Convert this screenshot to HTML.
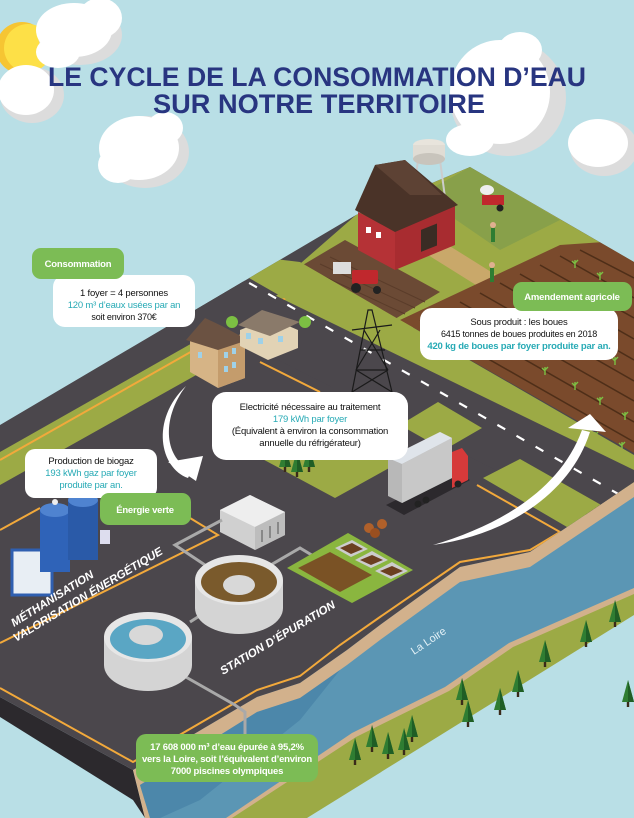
<!DOCTYPE html>
<html><head><meta charset="utf-8"><style>
html,body{margin:0;padding:0;background:#b9dfe6;}
svg{display:block;font-family:"Liberation Sans",sans-serif;}
</style></head><body>
<svg width="634" height="818" viewBox="0 0 634 818" xmlns="http://www.w3.org/2000/svg">
<defs>
<clipPath id="land"><polygon points="0,425 356,215 470,167 634,262 634,482 530,552 460,567 380,625 347,650 300,683 257,697 133,770 0,697"/></clipPath>
<g id="tree"><rect x="-1.2" y="0" width="2.4" height="7" fill="#3a2a1a"/><polygon points="0,-20 -6,2 6,2" fill="#2f7d32"/><polygon points="0,-20 0,2 6,2" fill="#1f5e25"/></g>
<g id="crop"><path d="M0,0 l0,-8 M0,-4 l-3,-3 M0,-5 l3,-3" stroke="#7cc043" stroke-width="1.4" fill="none"/></g>
</defs>
<rect width="634" height="818" fill="#b9dfe6"/>
<!-- sun -->
<circle cx="22" cy="48" r="26" fill="#f6c533"/>
<circle cx="28" cy="48" r="24" fill="#fde047"/>
<!-- clouds -->
<g fill="#dcdcdc">
<ellipse cx="80" cy="35" rx="42" ry="30"/><ellipse cx="32" cy="95" rx="32" ry="28"/><ellipse cx="145" cy="152" rx="44" ry="36"/><ellipse cx="508" cy="98" rx="58" ry="58"/><ellipse cx="604" cy="148" rx="34" ry="28"/>
</g>
<g fill="#fff">
<ellipse cx="74" cy="30" rx="38" ry="27"/><ellipse cx="58" cy="52" rx="22" ry="16"/><ellipse cx="100" cy="18" rx="22" ry="20"/>
<ellipse cx="26" cy="90" rx="28" ry="25"/>
<ellipse cx="139" cy="148" rx="40" ry="32"/><ellipse cx="118" cy="165" rx="20" ry="18"/><ellipse cx="165" cy="128" rx="18" ry="16"/>
<ellipse cx="500" cy="92" rx="50" ry="52"/><ellipse cx="520" cy="50" rx="22" ry="18"/><ellipse cx="470" cy="140" rx="24" ry="16"/>
<ellipse cx="598" cy="143" rx="30" ry="24"/>
</g>
<!-- title -->
<g font-weight="bold" fill="#283580" text-anchor="start">
<text x="48" y="86" font-size="27" textLength="538" lengthAdjust="spacingAndGlyphs">LE CYCLE DE LA CONSOMMATION D’EAU</text>
<text x="153" y="113" font-size="27" textLength="332" lengthAdjust="spacingAndGlyphs">SUR NOTRE TERRITOIRE</text>
</g>
<!-- platform side -->
<polygon points="0,697 133,770 145,818 0,818" fill="#2c292d"/>
<polygon points="0,717 133,800 145,818 0,818" fill="#b9dfe6"/>
<!-- bank & river -->
<polygon points="133,770 257,697 300,683 347,650 380,625 460,567 530,552 634,482 634,818 145,818" fill="#d2b18c"/>
<polygon points="140,785 257,712 300,698 347,665 380,640 460,582 530,567 634,497 634,818 150,818" fill="#5b96b4"/>
<polygon points="140,785 257,712 300,698 340,670 300,720 200,800 160,818 150,818" fill="#3d78a0" opacity="0.5"/>
<polygon points="226,818 352,733 445,687 509,643 634,588 634,818" fill="#d2b18c"/>
<polygon points="232,818 356,737 449,691 513,647 634,594 634,818" fill="#9caa45"/>
<polygon points="307,818 634,615 634,818" fill="#b9dfe6"/>
<!-- land -->
<g clip-path="url(#land)">
<rect width="634" height="818" fill="#4b474c"/>
<!-- green strip -->
<polygon points="0,452 300,282 330,300 0,485" fill="#9caa45"/>
<polygon points="0,460 300,290" stroke="#f2a93b" stroke-width="2" fill="none"/>
<!-- farm -->
<polygon points="270,290 356,215 470,167 634,262 634,300 560,300 400,330 330,300" fill="#9caa45"/>
<polygon points="420,195 470,167 560,220 500,250" fill="#88a04a"/>
<polygon points="291,272 345,240 440,292 385,325" fill="#6b4a35"/>
<g stroke="#5a3c2a" stroke-width="1"><line x1="300" y1="277" x2="395" y2="320"/><line x1="310" y1="270" x2="405" y2="314"/><line x1="320" y1="264" x2="415" y2="308"/><line x1="330" y1="257" x2="425" y2="302"/></g>
<polygon points="420,250 440,240 520,290 500,300" fill="#c9a86a"/>
<!-- crop field -->
<polygon points="400,320 560,245 634,240 634,453" fill="#7a4a2c"/>
<g stroke="#4e2e18" stroke-width="1.5">
<line x1="420" y1="320" x2="634" y2="442"/><line x1="440" y1="311" x2="634" y2="422"/><line x1="460" y1="302" x2="634" y2="401"/><line x1="480" y1="293" x2="634" y2="381"/><line x1="500" y1="283" x2="634" y2="360"/><line x1="520" y1="274" x2="634" y2="339"/><line x1="540" y1="265" x2="634" y2="318"/><line x1="560" y1="256" x2="634" y2="298"/><line x1="580" y1="250" x2="634" y2="278"/>
</g>
<g>
<use href="#crop" x="540" y="320"/><use href="#crop" x="565" y="335"/><use href="#crop" x="590" y="350"/><use href="#crop" x="615" y="365"/><use href="#crop" x="560" y="300"/><use href="#crop" x="585" y="315"/><use href="#crop" x="610" y="330"/><use href="#crop" x="545" y="375"/><use href="#crop" x="575" y="390"/><use href="#crop" x="600" y="405"/><use href="#crop" x="625" y="420"/><use href="#crop" x="520" y="360"/><use href="#crop" x="600" y="280"/><use href="#crop" x="625" y="295"/><use href="#crop" x="575" y="268"/><use href="#crop" x="595" y="440"/><use href="#crop" x="622" y="450"/>
</g>
<!-- green border along road -->
<polygon points="200,250 634,498 634,455 400,320 300,262" fill="#9caa45"/>
<!-- main road -->
<polygon points="100,200 634,505 634,540 100,260" fill="#4b474c"/>
<polygon points="120,220 634,470 634,540 120,280" fill="#4b474c"/>
<g stroke="#fff" stroke-width="2.2" stroke-dasharray="9,13"><line x1="230" y1="272" x2="634" y2="503"/></g>
<!-- lawns -->
<polygon points="483,478 520,459 603,506 567,527" fill="#9caa45"/>
<polygon points="400,425 438,402 482,428 444,450" fill="#9caa45"/>
<polygon points="255,455 320,420 400,462 335,498" fill="#9caa45"/>
<!-- orange outlines -->
<g fill="none" stroke="#f2a93b" stroke-width="2">
<polyline points="0,643 218,535 190,518"/>
<polyline points="477,485 560,532 530,550 460,562 380,617 340,645 300,676 257,690 133,762 0,688"/>
<polyline points="260,362 320,392"/>
<polyline points="0,530 40,508"/>
</g>
</g>
<!-- barn & tower -->
<g>
<line x1="418" y1="160" x2="412" y2="205" stroke="#ccc" stroke-width="2"/><line x1="440" y1="160" x2="446" y2="205" stroke="#ccc" stroke-width="2"/>
<ellipse cx="429" cy="145" rx="16" ry="6" fill="#e8e4dc"/><rect x="413" y="145" width="32" height="14" fill="#e0dcd4"/><ellipse cx="429" cy="159" rx="16" ry="6" fill="#c8c4bc"/>
<polygon points="358,250 358,212 395,230 395,270" fill="#b53236"/>
<polygon points="395,230 455,205 455,245 395,270" fill="#a82c30"/>
<polygon points="355,210 375,165 405,160 458,205 395,232" fill="#4a3328"/>
<polygon points="375,165 405,160 442,195 410,195" fill="#5d4234"/>
<rect x="421" y="235" width="16" height="22" fill="#3a2c24" transform="skewY(-22) translate(0,165)"/>
<rect x="366" y="227" width="5" height="6" fill="#fff"/><rect x="376" y="232" width="5" height="6" fill="#fff"/>
</g>
<!-- tractors & people -->
<g>
<rect x="352" y="270" width="26" height="14" fill="#c0282d" rx="2"/><circle cx="356" cy="288" r="5" fill="#222"/><circle cx="377" cy="290" r="4" fill="#222"/><rect x="333" y="262" width="18" height="12" fill="#ddd"/>
<rect x="482" y="195" width="22" height="10" fill="#c0282d"/><ellipse cx="487" cy="190" rx="7" ry="5" fill="#eee"/><circle cx="500" cy="208" r="3.5" fill="#222"/>
<rect x="491" y="228" width="4" height="14" fill="#2e7d32"/><circle cx="493" cy="225" r="3" fill="#e0b090"/>
<rect x="490" y="268" width="4" height="14" fill="#2e7d32"/><circle cx="492" cy="265" r="3" fill="#e0b090"/>
</g>
<!-- houses -->
<g>
<polygon points="190,340 215,330 245,345 245,378 218,388 190,372" fill="#d6b486"/>
<polygon points="218,345 245,332 245,378 218,388" fill="#c49c6c"/>
<polygon points="186,340 205,318 222,326 248,340 218,350" fill="#6b5242"/>
<g fill="#9fd1e8"><rect x="224" y="352" width="4" height="6"/><rect x="232" y="348" width="4" height="6"/><rect x="224" y="366" width="4" height="6"/><rect x="232" y="362" width="4" height="6"/><rect x="198" y="352" width="4" height="6"/></g>
<polygon points="240,330 270,318 298,330 298,348 268,360 240,346" fill="#e2d3b5"/>
<polygon points="238,325 262,310 300,322 270,336" fill="#8a7a6a"/>
<g fill="#9fd1e8"><rect x="246" y="333" width="5" height="6"/><rect x="258" y="338" width="5" height="6"/><rect x="278" y="336" width="5" height="6"/></g>
<circle cx="232" cy="322" r="6" fill="#7cc043"/><circle cx="305" cy="322" r="6" fill="#7cc043"/>
</g>
<!-- pylon -->
<g stroke="#1a1a1a" stroke-width="1.2" fill="none">
<polyline points="352,392 368,310 372,310 392,392"/><line x1="356" y1="370" x2="388" y2="370"/><line x1="360" y1="350" x2="385" y2="350"/><line x1="352" y1="330" x2="392" y2="325"/><line x1="364" y1="330" x2="388" y2="370"/><line x1="380" y1="330" x2="356" y2="370"/><line x1="356" y1="370" x2="392" y2="392"/><line x1="388" y1="370" x2="352" y2="392"/>
</g>
<!-- truck -->
<g>
<polygon points="386,505 452,472 470,480 404,515" fill="#2c292d"/>
<polygon points="388,458 440,432 452,438 452,478 402,503 388,496" fill="#b8b8b8"/>
<polygon points="388,458 440,432 452,438 402,464" fill="#dfe4ea"/>
<polygon points="402,464 452,438 452,478 402,503" fill="#c8c8c8"/>
<polygon points="452,452 462,448 468,456 468,480 452,488" fill="#d63a3a"/>
<circle cx="418" cy="504" r="3.5" fill="#222"/><circle cx="426" cy="500" r="3.5" fill="#222"/><circle cx="458" cy="484" r="3.5" fill="#222"/>
</g>
<!-- methanisation -->
<g>
<rect x="12" y="550" width="40" height="45" fill="#e8eef4"/><rect x="12" y="550" width="40" height="45" fill="none" stroke="#2f5fb0" stroke-width="3"/>
<rect x="40" y="510" width="30" height="62" fill="#2f63b8"/><ellipse cx="55" cy="510" rx="15" ry="7" fill="#4f83d0"/>
<rect x="68" y="500" width="30" height="60" fill="#2a5aa8"/><ellipse cx="83" cy="500" rx="15" ry="7" fill="#4f83d0"/>
<circle cx="55" cy="502" r="3" fill="#eee"/><circle cx="83" cy="492" r="3" fill="#eee"/>
<rect x="100" y="530" width="10" height="14" fill="#dde" />
</g>
<!-- building -->
<g>
<polygon points="220,510 250,495 285,512 285,535 255,550 220,532" fill="#d0d0d0"/>
<polygon points="220,510 250,495 285,512 255,527" fill="#eeeeee"/>
<polygon points="255,527 285,512 285,535 255,550" fill="#bdbdbd"/>
<g stroke="#888" stroke-width="2"><line x1="262" y1="530" x2="262" y2="542"/><line x1="270" y1="526" x2="270" y2="538"/><line x1="278" y1="522" x2="278" y2="534"/></g>
</g>
<!-- pipes -->
<g fill="none" stroke="#a9a9a9" stroke-width="3">
<polyline points="222,520 175,545 205,565"/><polyline points="245,580 300,548 320,560"/><polyline points="190,622 212,608"/><polyline points="170,668 235,705 245,712 245,780"/>
</g>
<!-- sludge beds -->
<g>
<polygon points="287,568 348,533 413,570 352,603" fill="#8ab63f"/>
<polygon points="298,568 330,552 372,575 340,592" fill="#7a5225"/>
<polygon points="335,548 352,540 368,549 351,557" fill="#ccc"/><polygon points="355,560 372,551 388,560 371,568" fill="#ccc"/><polygon points="375,571 392,562 408,571 391,579" fill="#ccc"/>
<polygon points="340,548 352,543 363,549 351,554" fill="#6b3f20"/><polygon points="360,560 372,555 383,560 371,565" fill="#6b3f20"/><polygon points="380,571 392,566 403,571 391,576" fill="#6b3f20"/>
<circle cx="369" cy="528" r="5" fill="#b0602a"/><circle cx="382" cy="524" r="5" fill="#b0602a"/><circle cx="375" cy="533" r="5" fill="#9a4f20"/>
</g>
<!-- tanks -->
<g>
<path d="M195,580 v28 a44,26 0 0 0 88,0 v-28 z" fill="#d4d4d4"/>
<ellipse cx="239" cy="580" rx="44" ry="25" fill="#e6e6e6"/>
<ellipse cx="239" cy="582" rx="38" ry="20" fill="#7a5a2c"/>
<ellipse cx="239" cy="585" rx="16" ry="10" fill="#d8d8d8"/>
<path d="M104,637 v28 a44,26 0 0 0 88,0 v-28 z" fill="#d4d4d4"/>
<ellipse cx="148" cy="637" rx="44" ry="25" fill="#e6e6e6"/>
<ellipse cx="148" cy="639" rx="38" ry="20" fill="#5aa6c4"/>
<ellipse cx="146" cy="635" rx="17" ry="10" fill="#d8d8d8"/>
</g>
<!-- trees on bank -->
<g>
<use href="#tree" x="355" y="758"/><use href="#tree" x="372" y="745"/><use href="#tree" x="388" y="752"/><use href="#tree" x="404" y="748"/><use href="#tree" x="412" y="735"/><use href="#tree" x="462" y="698"/><use href="#tree" x="468" y="720"/><use href="#tree" x="500" y="708"/><use href="#tree" x="518" y="690"/><use href="#tree" x="545" y="660"/><use href="#tree" x="586" y="640"/><use href="#tree" x="615" y="620"/><use href="#tree" x="628" y="700"/>
<use href="#tree" x="285" y="465"/><use href="#tree" x="297" y="470"/><use href="#tree" x="309" y="465"/>
</g>
<!-- arrows -->
<path d="M186,386 C160,420 165,460 192,470 L188,478 C160,468 150,420 186,386 Z" fill="#fff"/>
<polygon points="168,462 203,456 196,481" fill="#fff"/>
<path d="M433,545 C500,525 560,490 582,430 L590,432 C570,495 505,535 433,545 Z" fill="#fff"/>
<polygon points="568,428 590,414 606,432" fill="#fff"/>
<!-- rotated labels -->
<g fill="#fff" font-weight="bold" font-style="italic">
<text transform="translate(14,627) rotate(-32)" font-size="11.5">MÉTHANISATION</text>
<text transform="translate(16,642) rotate(-31)" font-size="11.5" textLength="172" lengthAdjust="spacingAndGlyphs">VALORISATION ÉNERGÉTIQUE</text>
<text transform="translate(223,675) rotate(-31)" font-size="11.5" textLength="132" lengthAdjust="spacingAndGlyphs">STATION D’ÉPURATION</text>
</g>
<text transform="translate(414,655) rotate(-34)" font-size="11" fill="#e3f1f7">La Loire</text>
<!-- labels -->
<g font-size="9.5" text-anchor="middle" letter-spacing="-0.2">
<rect x="53" y="275" width="142" height="52" rx="12" fill="#fff"/>
<rect x="32" y="248" width="92" height="31" rx="9" fill="#7cbc55"/>
<text x="78" y="267" fill="#fff" font-weight="bold">Consommation</text>
<text x="124" y="296" fill="#111">1 foyer = 4 personnes</text>
<text x="124" y="308" fill="#27aab5">120 m³ d’eaux usées par an</text>
<text x="124" y="320" fill="#111" font-size="9">soit environ 370€</text>

<rect x="25" y="449" width="132" height="49" rx="10" fill="#fff"/>
<text x="91" y="464" fill="#111">Production de biogaz</text>
<text x="91" y="476" fill="#27aab5">193 kWh gaz par foyer</text>
<text x="91" y="488" fill="#27aab5">produite par an.</text>
<rect x="100" y="493" width="91" height="32" rx="9" fill="#7cbc55"/>
<text x="145" y="513" fill="#fff" font-weight="bold">Énergie verte</text>

<rect x="212" y="392" width="196" height="68" rx="14" fill="#fff"/>
<text x="310" y="410" fill="#111">Electricité nécessaire au traitement</text>
<text x="310" y="422" fill="#27aab5">179 kWh par foyer</text>
<text x="310" y="434" fill="#111">(Équivalent à environ la consommation</text>
<text x="310" y="446" fill="#111">annuelle du réfrigérateur)</text>

<rect x="420" y="308" width="198" height="52" rx="12" fill="#fff"/>
<rect x="513" y="282" width="119" height="29" rx="9" fill="#7cbc55"/>
<text x="572" y="300" fill="#fff" font-weight="bold">Amendement agricole</text>
<text x="519" y="325" fill="#111">Sous produit : les boues</text>
<text x="519" y="337" fill="#111" font-size="9">6415 tonnes de boues produites en 2018</text>
<text x="519" y="349" fill="#27aab5" font-weight="bold">420 kg de boues par foyer produite par an.</text>

<rect x="136" y="734" width="182" height="48" rx="10" fill="#7cbc55"/>
<g fill="#fff" font-weight="bold"><text x="227" y="750">17 608 000 m³ d’eau épurée à 95,2%</text>
<text x="227" y="762">vers la Loire, soit l’équivalent d’environ</text>
<text x="227" y="774">7000 piscines olympiques</text></g>
</g>
</svg>
</body></html>
